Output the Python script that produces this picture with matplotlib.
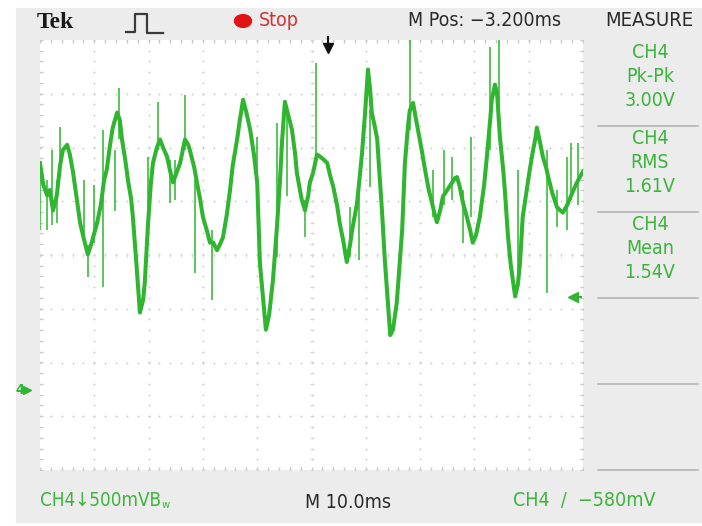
import matplotlib
matplotlib.use('Agg')
import matplotlib.pyplot as plt
import matplotlib.patches as mpatches
from matplotlib.lines import Line2D
import numpy as np

# ── CH4 capture: 10 ms/div, 500 mV/div ──────────────────────────────────
trace_ms = [0.0, 0.6, 1.3, 1.8, 2.4, 3.1, 3.7, 4.2, 5.0, 5.5, 6.1, 6.8, 7.4, 8.1,
            8.8, 9.4, 9.9, 10.5, 11.2, 11.8, 12.3, 12.9, 13.4, 14.2, 14.7, 15.1,
            15.7, 16.2, 16.8, 17.1, 17.7, 18.4, 19.0, 19.3, 19.9, 20.4, 20.8,
            21.5, 22.1, 22.7, 23.4, 23.9, 24.5, 25.0, 25.8, 26.7, 27.3, 27.6,
            28.4, 28.9, 29.5, 30.0, 30.8, 31.3, 31.9, 32.6, 33.1, 33.7, 34.4,
            35.0, 35.5, 36.3, 36.8, 37.4, 38.1, 38.7, 39.4, 40.0, 40.5, 41.1,
            41.6, 42.2, 42.9, 43.6, 44.2, 44.6, 45.1, 45.7, 46.4, 47.0, 47.3,
            48.2, 48.8, 49.4, 49.7, 50.3, 51.0, 51.6, 52.3, 52.9, 53.4, 54.0,
            54.7, 55.2, 55.8, 56.5, 57.1, 57.5, 58.0, 58.4, 58.9, 59.3, 59.9,
            60.4, 60.8, 61.1, 61.7, 62.1, 62.6, 63.0, 63.5, 63.9, 64.5, 65.0,
            65.7, 66.3, 66.7, 67.2, 67.8, 68.1, 68.7, 69.2, 69.6, 70.3, 70.9,
            71.6, 72.2, 72.7, 73.1, 73.7, 74.2, 75.0, 75.9, 76.4, 76.8, 77.3,
            77.9, 78.5, 79.2, 79.7, 80.3, 81.0, 81.8, 82.3, 82.9, 83.2, 83.8,
            84.2, 84.7, 85.3, 85.6, 86.2, 86.7, 87.5, 88.0, 88.4, 88.9, 89.5,
            90.2, 90.8, 91.2, 91.5, 92.1, 92.6, 93.2, 93.6, 94.3, 95.2, 95.8,
            96.3, 97.1, 98.0, 98.7, 99.4, 100.0]
trace_v = [2.11, 1.91, 1.81, 1.86, 1.67, 1.81, 2.09, 2.23, 2.28, 2.19, 2.02, 1.77,
           1.55, 1.40, 1.26, 1.35, 1.44, 1.55, 1.72, 1.95, 2.05, 2.28, 2.44, 2.58,
           2.51, 2.33, 2.14, 1.95, 1.77, 1.61, 1.21, 0.72, 0.84, 1.00, 1.55, 1.91,
           2.11, 2.25, 2.33, 2.25, 2.17, 2.05, 1.93, 2.00, 2.11, 2.33, 2.28, 2.23,
           2.07, 1.93, 1.77, 1.61, 1.47, 1.37, 1.37, 1.30, 1.35, 1.42, 1.63, 1.86,
           2.09, 2.33, 2.51, 2.70, 2.56, 2.42, 2.19, 1.93, 1.18, 0.84, 0.56, 0.70,
           1.02, 1.49, 1.95, 2.33, 2.68, 2.56, 2.42, 2.19, 2.02, 1.77, 1.67, 1.81,
           1.93, 2.02, 2.19, 2.17, 2.14, 2.11, 2.00, 1.89, 1.72, 1.55, 1.40, 1.19,
           1.35, 1.49, 1.63, 1.74, 2.00, 2.20, 2.60, 2.98, 2.79, 2.58, 2.44, 2.33,
           1.95, 1.65, 1.21, 0.93, 0.51, 0.56, 0.81, 1.21, 1.49, 2.11, 2.47, 2.60,
           2.67, 2.53, 2.42, 2.23, 2.05, 1.86, 1.74, 1.63, 1.56, 1.67, 1.80, 1.86,
           1.93, 1.97, 1.98, 1.89, 1.74, 1.63, 1.49, 1.37, 1.44, 1.61, 1.91, 2.17,
           2.51, 2.70, 2.84, 2.74, 2.35, 2.05, 1.86, 1.42, 1.16, 0.87, 0.98, 1.18,
           1.61, 1.81, 2.05, 2.23, 2.33, 2.44, 2.30, 2.17, 2.07, 1.98, 1.84, 1.70,
           1.67, 1.65, 1.72, 1.83, 1.91, 1.98, 2.03]

# narrow glitches riding on the signal
spike_ms = [0.0, 1.3, 2.2, 3.1, 3.7, 8.1, 8.8, 9.9, 11.6, 13.8, 14.5, 19.9, 21.7,
            23.9, 24.9, 26.7, 28.5, 31.7, 40.0, 43.6, 45.5, 48.8, 50.8, 57.1,
            58.7, 60.8, 68.1, 72.4, 74.4, 75.9, 77.9, 79.4, 82.9, 84.5, 88.0,
            93.4, 95.2, 97.1, 97.8, 99.1]
spike_hi = [2.11, 1.95, 2.23, 1.95, 2.45, 1.95, 1.35, 1.91, 2.42, 2.23, 2.81, 2.17,
            2.68, 2.14, 2.14, 2.74, 1.95, 1.49, 2.35, 2.48, 2.60, 1.77, 3.04, 1.70,
            1.80, 2.60, 3.27, 2.05, 2.23, 2.17, 1.86, 2.35, 3.19, 3.26, 2.05, 2.23,
            1.86, 2.17, 2.30, 2.30]
spike_lo = [1.49, 1.49, 1.53, 1.55, 2.14, 1.42, 1.05, 1.37, 0.96, 1.66, 2.33, 1.58,
            2.23, 1.74, 1.77, 2.23, 1.09, 0.84, 1.74, 1.24, 1.80, 1.42, 2.09, 1.24,
            1.21, 1.89, 2.42, 1.61, 1.72, 1.77, 1.37, 1.61, 2.23, 2.51, 0.98, 0.90,
            1.52, 1.49, 1.77, 1.72]

measure_names = ['Pk-Pk', 'RMS', 'Mean']
measure_values = ['3.00V', '1.61V', '1.54V']

MS_PER_DIV = 10.0
V_PER_DIV = 0.5
GROUND_DIV = -2.51       # CH4 ground marker, divisions from screen centre
TRIG_ARROW_V = 0.86      # trigger level arrow on the right edge
TRIG_POS_MS = 53.0       # trigger position marker at the top

W, H = 702, 526
GREEN = '#2fb52f'
TEXT_GREEN = '#3cb43c'
DOTS = '#c8c8c8'
NARROW = dict(family=['Liberation Sans Narrow', 'DejaVu Sans'], stretch='condensed')


def fx(x):
    return x / W


def fy(y):
    return 1 - y / H


fig = plt.figure(figsize=(W / 100, H / 100), dpi=100)
fig.patch.set_facecolor('white')
fig.patches.append(mpatches.Rectangle((fx(16), fy(522)), fx(W - 16), (522 - 8) / H,
                                      transform=fig.transFigure, color='#ececec', zorder=0))

box = [fx(40), fy(470), 543 / W, 430 / H]

# ── graticule, in divisions ────────────────────────────────────────────
gax = fig.add_axes(box, zorder=1)
gax.set_facecolor('white')
gax.set_xlim(0, 10)
gax.set_ylim(-4, 4)
gax.set_xticks([])
gax.set_yticks([])
for s in gax.spines.values():
    s.set_visible(False)

fine_y = np.arange(-4, 4.01, 0.2)
fine_x = np.arange(0, 10.01, 0.2)
for i in range(1, 10):
    gax.plot(np.full_like(fine_y, i), fine_y, ls='none', marker='o', ms=1.3,
             color=DOTS, mew=0)
for j in range(-3, 4):
    gax.plot(fine_x, np.full_like(fine_x, j), ls='none', marker='o', ms=1.3,
             color=DOTS, mew=0)
# border ticks and centre cross
for xv in (0, 10):
    gax.plot(np.full_like(fine_y, xv), fine_y, ls='none', marker='_', ms=4,
             color=DOTS, mew=1.0)
for yv in (-4, 4):
    gax.plot(fine_x, np.full_like(fine_x, yv), ls='none', marker='|', ms=4,
             color=DOTS, mew=1.0)
gax.plot(np.full_like(fine_y, 5), fine_y, ls='none', marker='_', ms=3,
         color='#d6d6d6', mew=0.8)
gax.plot(fine_x, np.zeros_like(fine_x), ls='none', marker='|', ms=3,
         color='#d6d6d6', mew=0.8)

# ── signal ─────────────────────────────────────────────────────────────
ax = fig.add_axes(box, zorder=2)
ax.patch.set_alpha(0)
v_mid = -GROUND_DIV * V_PER_DIV
ax.set_xlim(0, 10 * MS_PER_DIV)
ax.set_ylim(v_mid - 4 * V_PER_DIV, v_mid + 4 * V_PER_DIV)
ax.set_xticks([])
ax.set_yticks([])
for s in ax.spines.values():
    s.set_visible(False)

ax.vlines(spike_ms, spike_lo, spike_hi, color=GREEN, lw=1.3, alpha=0.85)
ax.plot(trace_ms, trace_v, color=GREEN, lw=2.9, solid_joinstyle='round')

# ── header ─────────────────────────────────────────────────────────────
fig.text(fx(37), fy(23), 'Tek', family=['Liberation Serif', 'DejaVu Serif'],
         weight='bold', fontsize=17, color='#1a1a1a', va='center', ha='left')
fig.lines.append(Line2D([fx(126), fx(135), fx(135), fx(147), fx(147), fx(163)],
                        [fy(32), fy(32), fy(14), fy(14), fy(33), fy(33)],
                        transform=fig.transFigure, color='#3a3a3a', lw=1.6))
fig.patches.append(mpatches.Circle((fx(243), fy(21)), 8.5 / W,
                                   transform=fig.transFigure, color='#e01414'))
fig.text(fx(259), fy(21), 'Stop', fontsize=14, color='#d03434',
         va='center', ha='left', **NARROW)
fig.text(fx(408), fy(20), 'M Pos: \u22123.200ms', fontsize=14,
         color='#2a2a2a', va='center', ha='left', **NARROW)
fig.text(fx(649), fy(20), 'MEASURE', fontsize=14.5,
         color='#2a2a2a', va='center', ha='center', **NARROW)

# trigger position marker
ax.plot([TRIG_POS_MS], [v_mid + 3.85 * V_PER_DIV], marker='v', ms=7,
        color='#111111', clip_on=False)
ax.plot([TRIG_POS_MS, TRIG_POS_MS], [v_mid + 3.85 * V_PER_DIV, v_mid + 4.05 * V_PER_DIV],
        color='#111111', lw=1.5, clip_on=False)

# ── measurement panel ──────────────────────────────────────────────────
for k, (name, val) in enumerate(zip(measure_names, measure_values)):
    top = 40 + 86 * k
    fig.text(fx(650), fy(top + 13), 'CH4', fontsize=14,
             color=TEXT_GREEN, va='center', ha='center', **NARROW)
    fig.text(fx(650), fy(top + 36), name, fontsize=14,
             color=TEXT_GREEN, va='center', ha='center', **NARROW)
    fig.text(fx(650), fy(top + 60), val, fontsize=14,
             color=TEXT_GREEN, va='center', ha='center', **NARROW)
for k in range(1, 6):
    yy = 40 + 86 * k
    fig.lines.append(Line2D([fx(598), fx(698)], [fy(yy), fy(yy)],
                            transform=fig.transFigure, color='#b4b4b4', lw=1.2))

# ground marker and trigger level arrow
fig.text(fx(15), fy(390), '4', fontsize=10, color=GREEN,
         va='center', ha='left', weight='bold', **NARROW)
ax.plot([-2.4], [0.0], marker='>', ms=6, color=GREEN, clip_on=False)
ax.plot([98.2], [TRIG_ARROW_V], marker='<', ms=7, color=GREEN, clip_on=False)
ax.plot([98.2, 99.6], [TRIG_ARROW_V, TRIG_ARROW_V], color=GREEN, lw=1.5,
        clip_on=False)

# ── footer ─────────────────────────────────────────────────────────────
ch_lbl = fig.text(fx(40), fy(501), 'CH4\u2193500mVB', fontsize=13.5,
                  color=TEXT_GREEN, va='center', ha='left', **NARROW)
fig.add_artist(matplotlib.text.Annotation(
    'w', xy=(1.0, 0.05), xycoords=ch_lbl, xytext=(0.5, 0),
    textcoords='offset points', fontsize=8, color=TEXT_GREEN,
    va='bottom', ha='left', annotation_clip=False, **NARROW))
fig.text(fx(305), fy(502), 'M 10.0ms', fontsize=14,
         color='#2a2a2a', va='center', ha='left', **NARROW)
fig.text(fx(513), fy(501), 'CH4  /  \u2212580mV', fontsize=14,
         color=TEXT_GREEN, va='center', ha='left', **NARROW)

fig.savefig('out.png', dpi=100, facecolor=fig.get_facecolor())
